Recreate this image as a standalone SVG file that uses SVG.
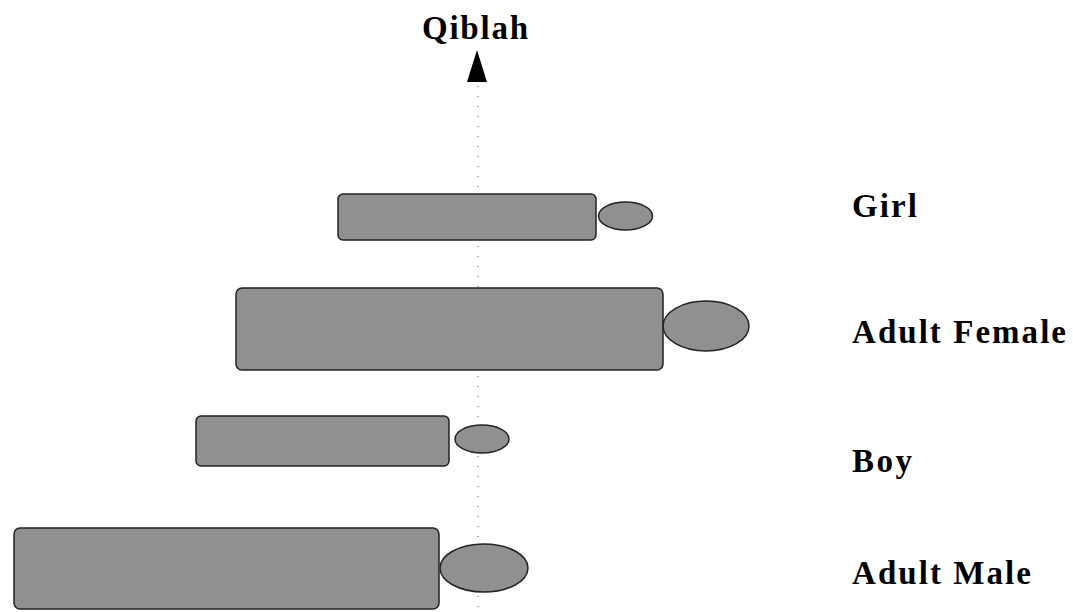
<svg xmlns="http://www.w3.org/2000/svg" width="1073" height="612" viewBox="0 0 1073 612">
<style>
.body{fill:#909090;stroke:#222;stroke-width:1.5}
.lbl{font-family:"Liberation Serif","Times New Roman",serif;font-weight:bold;font-size:33px;fill:#000}
</style>
<rect width="1073" height="612" fill="#fff"/>
<g id="connectors">
<line x1="478" y1="86" x2="478" y2="612" stroke="#555" stroke-width="1" stroke-dasharray="1 9"/>
<polygon points="477,50 467,82 487,82" fill="#000"/>
</g>
<g id="qiblah"><text class="lbl" x="422" y="39" textLength="106" lengthAdjust="spacing">Qiblah</text></g>
<g id="girl">
<rect class="body" x="338" y="194" width="258" height="46" rx="5"/>
<ellipse class="body" cx="625.5" cy="216" rx="27" ry="14"/>
<text class="lbl" x="852" y="217" textLength="65" lengthAdjust="spacing">Girl</text>
</g>
<g id="adult-female">
<rect class="body" x="236" y="288" width="427" height="82" rx="6"/>
<ellipse class="body" cx="706" cy="326" rx="43" ry="25"/>
<text class="lbl" x="852" y="343" textLength="214" lengthAdjust="spacing">Adult Female</text>
</g>
<g id="boy">
<rect class="body" x="196" y="416" width="253" height="50" rx="5"/>
<ellipse class="body" cx="482" cy="439" rx="27" ry="14"/>
<text class="lbl" x="852" y="472" textLength="60" lengthAdjust="spacing">Boy</text>
</g>
<g id="adult-male">
<rect class="body" x="14" y="528" width="425" height="81" rx="6"/>
<ellipse class="body" cx="484" cy="568" rx="44" ry="24"/>
<text class="lbl" x="852" y="584" textLength="179" lengthAdjust="spacing">Adult Male</text>
</g>
</svg>
